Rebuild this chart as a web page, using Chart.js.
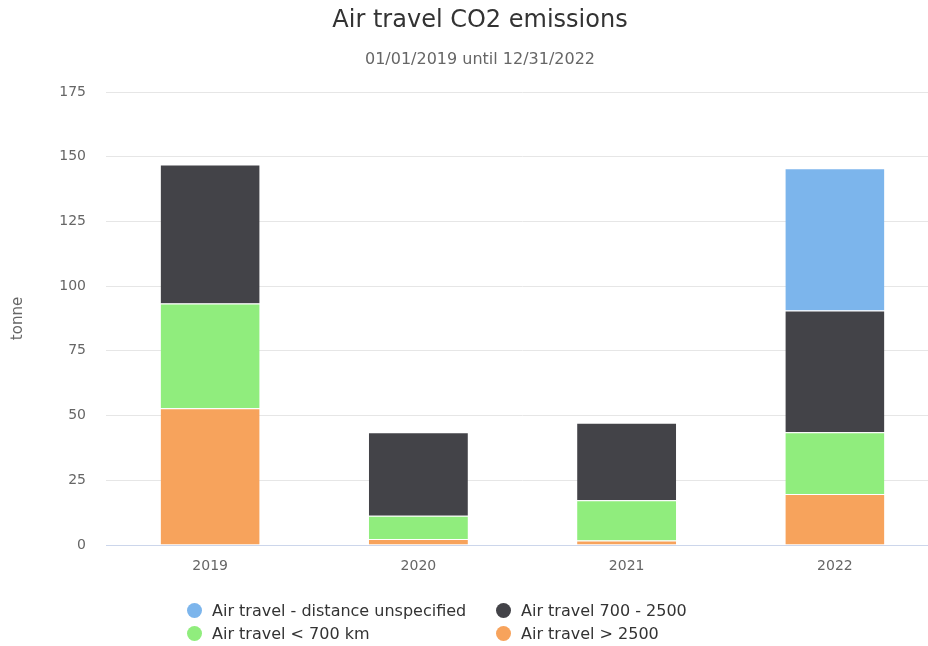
<!DOCTYPE html>
<html>
<head>
<meta charset="utf-8">
<script src="https://cdn.jsdelivr.net/npm/chart.js@4/dist/chart.umd.min.js"></script>
<style>
  html, body { margin: 0; padding: 0; background: #fff; overflow: hidden; }
  #wrap { position: relative; width: 928px; height: 646px; overflow: hidden; }
  #chart { position: absolute; left: 0; top: 0; }
  .lg-item { position: absolute; height: 20px; display: flex; align-items: center;
             font: 16px "DejaVu Sans", sans-serif; color: #333; white-space: nowrap; }
  .lg-dot { width: 15px; height: 15px; border-radius: 50%; margin-right: 10px; }
</style>
</head>
<body>
<div id="wrap">
  <canvas id="chart" width="939" height="646"></canvas>
  <div id="legend"></div>
</div>
<script>
"use strict";

const categories = ['2019', '2020', '2021', '2022'];
const seriesNames = ['Air travel > 2500', 'Air travel < 700 km', 'Air travel 700 - 2500', 'Air travel - distance unspecified'];
const longHaul = [52.8, 2.3, 1.7, 19.7];
const shortHaul = [40.5, 9.0, 15.6, 23.9];
const mediumHaul = [53.7, 32.3, 29.9, 47.0];
const unspecified = [null, null, null, 54.9];
const seriesColors = ['#f7a35c', '#90ed7d', '#434348', '#7cb5ec'];
const yMax = 175, yStep = 25;

const FONT = '"DejaVu Sans", sans-serif';

// titel + untertitel direkt auf den canvas
const titlePlugin = {
    id: 'titles',
    afterDraw(chart) {
        const ctx = chart.ctx;
        ctx.save();
        ctx.textAlign = 'center';
        ctx.textBaseline = 'middle';
        ctx.fillStyle = '#333333';
        ctx.font = `24px ${FONT}`;
        ctx.fillText('Air travel CO2 emissions', 480, 21);
        ctx.fillStyle = '#666666';
        ctx.font = `16px ${FONT}`;
        ctx.fillText('01/01/2019 until 12/31/2022', 480, 60);
        ctx.restore();
    }
};

const seriesData = [longHaul, shortHaul, mediumHaul, unspecified];
const datasets = seriesData.map((d, i) => ({
    label: seriesNames[i],
    data: d,
    backgroundColor: seriesColors[i],
    borderColor: '#ffffff',
    borderWidth: { top: 1, left: 0, right: 0, bottom: 0 },
    borderSkipped: false,
    categoryPercentage: 1,
    barPercentage: 0.4755
}));

new Chart(document.getElementById('chart'), {
    type: 'bar',
    data: { labels: categories, datasets },
    options: {
        responsive: false,
        animation: false,
        layout: { padding: { top: 92, bottom: 61, left: 0, right: 0 } },
        plugins: { legend: { display: false }, tooltip: { enabled: false }, title: { display: false } },
        scales: {
            x: {
                stacked: true,
                grid: { color: 'rgba(0,0,0,0)', drawTicks: false },
                border: { display: true, color: '#ccd6eb', width: 1 },
                ticks: { color: '#666666', font: { family: FONT, size: 14 }, padding: 13 },
                afterFit(scale) { scale.height = 40; }
            },
            y: {
                stacked: true,
                min: 0, max: yMax,
                grid: {
                    drawTicks: false,
                    color: (c) => c.tick && c.tick.value === 0 ? 'rgba(0,0,0,0)' : '#e6e6e6'
                },
                border: { display: false },
                ticks: { stepSize: yStep, color: '#666666', font: { family: FONT, size: 14 }, padding: 20 },
                title: { display: true, text: 'tonne', color: '#666666', font: { family: FONT, size: 15 }, padding: { top: 9, bottom: 0 } },
                afterFit(scale) { scale.width = 106; }
            }
        }
    },
    plugins: [titlePlugin]
});

// legende: 2 spalten wie im original
const legendOrder = [3, 2, 1, 0];
const legendPos = [[187, 600], [496, 600], [187, 623], [496, 623]];
const legendEl = document.getElementById('legend');
legendOrder.forEach((idx, k) => {
    const item = document.createElement('div');
    item.className = 'lg-item';
    item.style.left = legendPos[k][0] + 'px';
    item.style.top = legendPos[k][1] + 'px';
    item.innerHTML = `<span class="lg-dot" style="background:${seriesColors[idx]}"></span><span>${seriesNames[idx].replace(/</g, '&lt;').replace(/>/g, '&gt;')}</span>`;
    legendEl.appendChild(item);
});
</script>
</body>
</html>
